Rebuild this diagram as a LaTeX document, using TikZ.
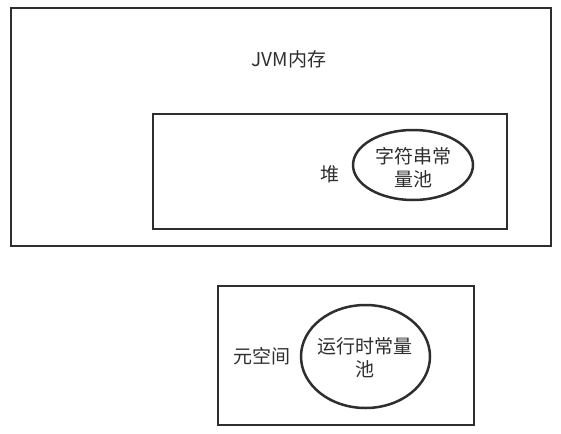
\documentclass[tikz,border=0pt]{standalone}
\usepackage{fontspec}
\setmainfont{Noto Sans CJK SC}
\usetikzlibrary{shapes.geometric}
\definecolor{ln}{HTML}{2E2E2E}
\tikzset{
  box/.style={draw=ln, line width=2.8pt},
  oval/.style={draw=ln, line width=2.5pt, ellipse},
  lbl/.style={text=ln, font=\fontsize{19}{23}\selectfont, align=center, inner sep=0pt}
}
\begin{document}
\begin{tikzpicture}[x=1pt,y=-1pt]
\useasboundingbox (0,0) rectangle (561,433);
\draw[box] (11,8) rectangle (551,246);
\node[lbl] (jvm) at (289,59) {JVM内存};
\draw[box] (153,114) rectangle (507,229);
\node[lbl] (heap) at (330,174) {堆};
\draw[oval] (413,165) ellipse [x radius=60, y radius=35];
\node[lbl] (scp) at (413,168) {字符串常\\量池};
\draw[box] (218,286) rectangle (474,425);
\node[lbl] (meta) at (262,356) {元空间};
\draw[oval] (365.5,356.5) ellipse [x radius=64.5, y radius=51.5];
\node[lbl] (rcp) at (365,358) {运行时常量\\池};
\end{tikzpicture}
\end{document}
